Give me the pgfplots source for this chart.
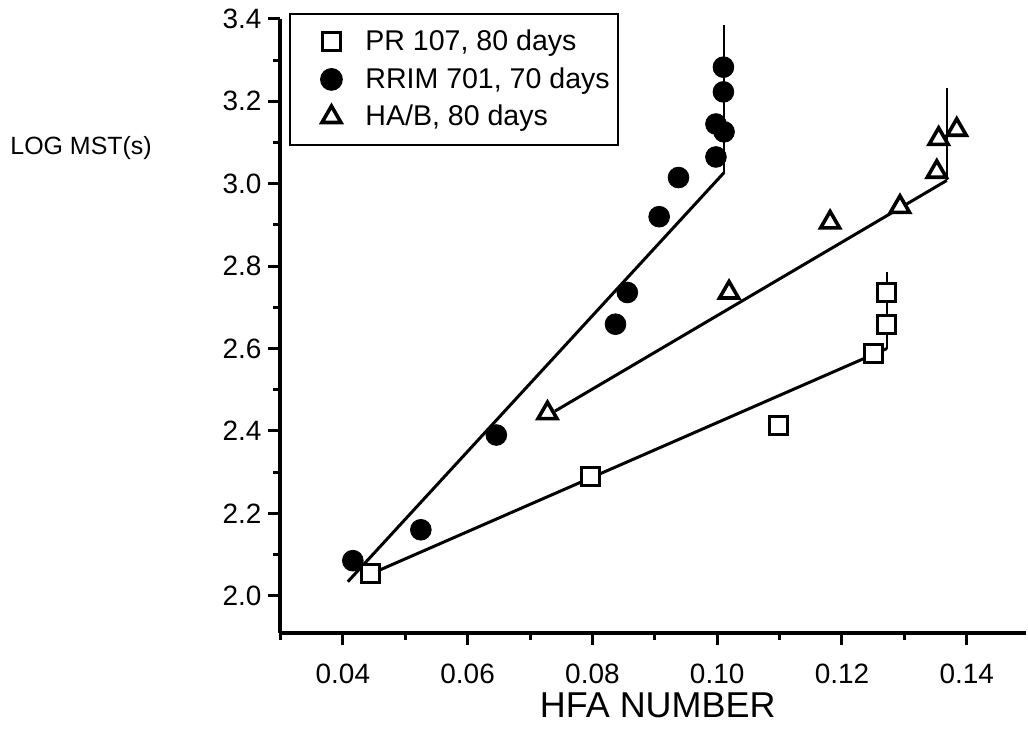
\documentclass[border=0pt]{standalone}
\usepackage{fontspec}
\setmainfont{Liberation Sans}
\usepackage{pgfplots}
\pgfplotsset{compat=1.18}
\pgfplotsset{widemark/.style={legend image code/.code={\path (-0.335cm,0cm) (0.81cm,0cm); \draw[mark repeat=2,mark phase=2,##1] plot coordinates {(0cm,0cm) (0.3cm,0cm) (0.6cm,0cm)};}}}
\begin{document}
\begin{tikzpicture}
\begin{axis}[
  scale only axis, width=373.5pt, height=307.5pt,
  xmin=0.03, xmax=0.1495, ymin=1.91, ymax=3.4,
  axis x line=bottom, axis y line=left,
  axis line style={-, line width=2pt},
  xtick={0.04,0.06,0.08,0.10,0.12,0.14},
  minor xtick={0.03,0.05,0.07,0.09,0.11,0.13},
  ytick={2.0,2.2,2.4,2.6,2.8,3.0,3.2,3.4},
  minor ytick={2.1,2.3,2.5,2.7,2.9,3.1,3.3},
  tick align=outside,
  major tick length=6pt, minor tick length=3.5pt,
  tick style={black, line width=1.5pt},
  scaled x ticks=false,
  x tick label style={font=\fontsize{14}{16}\selectfont, yshift=-6pt, /pgf/number format/assume math mode=true, /pgf/number format/fixed, /pgf/number format/precision=2, /pgf/number format/fixed zerofill},
  y tick label style={font=\fontsize{14}{16}\selectfont, /pgf/number format/assume math mode=true, /pgf/number format/fixed, /pgf/number format/precision=1, /pgf/number format/fixed zerofill},
  xlabel={HFA NUMBER},
  xlabel style={font=\fontsize{18}{20}\selectfont, at={(axis description cs:0.506,0)}, anchor=center, yshift=-36.5pt},
  ylabel={LOG MST(s)},
  every axis y label/.style={at={(axis description cs:-0.3628,0.79)}, anchor=west, inner sep=0pt, font=\fontsize{12.5}{14}\selectfont},
  legend style={at={(axis description cs:0.012,1.0098)}, anchor=north west, draw=black, line width=1pt, font=\fontsize{14.3}{16}\selectfont, inner xsep=2pt, inner ysep=6pt, row sep=3pt, cells={anchor=west}},
  legend cell align=left,
  clip=false,
]
% fitted lines
\addplot[black, line width=1.5pt, forget plot] coordinates {(0.0445,2.053) (0.1272,2.600)};
\addplot[black, line width=0.9pt, forget plot] coordinates {(0.1272,2.600) (0.1272,2.785)};
\addplot[black, line width=1.5pt, forget plot] coordinates {(0.0408,2.034) (0.1011,3.027)};
\addplot[black, line width=1.2pt, forget plot] coordinates {(0.1011,3.027) (0.1011,3.385)};
\addplot[black, line width=1.5pt, forget plot] coordinates {(0.0740,2.448) (0.1368,3.008)};
\addplot[black, line width=0.9pt, forget plot] coordinates {(0.1368,3.008) (0.1368,3.232)};
% data
\addplot[only marks, widemark, mark=square*, mark size=4.5pt, mark options={fill=white, draw=black, line width=1.5pt}] coordinates {
 (0.0445,2.053) (0.0797,2.290) (0.1099,2.412) (0.1251,2.588) (0.1272,2.659) (0.1272,2.736)};
\addlegendentry{PR 107, 80 days}
\addplot[only marks, widemark, mark=*, mark size=5.2pt, mark options={fill=black, draw=black}] coordinates {
 (0.0416,2.085) (0.0525,2.160) (0.0646,2.390) (0.0837,2.659) (0.0856,2.736) (0.0907,2.920)
 (0.0938,3.015) (0.0998,3.065) (0.0998,3.145) (0.1011,3.126) (0.1010,3.223) (0.1010,3.283)};
\addlegendentry{RRIM 701, 70 days}
\addplot[only marks, widemark, mark=triangle*, mark size=5.5pt, mark options={fill=white, draw=black, line width=1.8pt}] coordinates {
 (0.0728,2.443) (0.1019,2.736) (0.1181,2.906) (0.1293,2.944) (0.1352,3.029) (0.1355,3.109) (0.1384,3.131)};
\addlegendentry{HA/B, 80 days}
\path (axis description cs:-0.3762,-0.1675) -- (axis description cs:1,1.0309);
\end{axis}
\end{tikzpicture}
\end{document}
